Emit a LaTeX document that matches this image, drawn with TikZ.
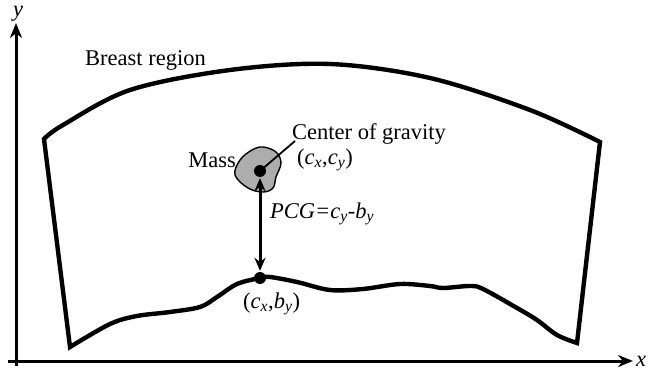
\documentclass[tikz,border=0pt]{standalone}
\usepackage{fontspec}
\setmainfont{Liberation Serif}
\usetikzlibrary{arrows.meta}
\newcommand\mysub[1]{\textsubscript{#1}}
\tikzset{
  lbl/.style={font=\fontsize{22.5}{26}\selectfont, inner sep=0pt},
  axis/.style={line width=3pt, -{Stealth[length=15pt,width=12pt]}},
  region/.style={line width=4.4pt, line join=miter},
  dotm/.style={circle, fill=black, inner sep=0pt, minimum size=12pt},
}
\begin{document}
\begin{tikzpicture}[x=1pt,y=-1pt]
\useasboundingbox (0,0) rectangle (653,371);
% axes
\coordinate (o1) at (8,361);
\coordinate (xend) at (633,361);
\coordinate (o2) at (16,366);
\coordinate (yend) at (16,23);
\draw[axis] (o1) -- (xend);
\draw[axis] (o2) -- (yend);
\node[lbl, font=\fontsize{22.5}{26}\selectfont\itshape, anchor=base] (xl) at (641,366) {x};
\node[lbl, font=\fontsize{22.5}{26}\selectfont\itshape, anchor=base] (yl) at (18,17) {y};
% region
\draw[region] plot[smooth, tension=0.55] coordinates {(44,139) (63,125) (130,90) (230,70) (330,64) (430,78) (530,110) (600,142)}
  -- plot[smooth, tension=0.55] coordinates {(577,343) (557,335) (537,320) (517,308) (483,289) (470,286) (443,288) (430,286) (400,284) (363,289) (330,290) (297,282) (270,277) (260,278) (237,284) (217,297) (200,307) (170,312) (137,316) (110,324) (70,347)}
  -- cycle;
\node[lbl, anchor=west] (br) at (85,60) {Breast region};
% mass
\draw[line width=1.4pt, fill=black!32] plot[smooth cycle, tension=0.6] coordinates {(263,147) (276,152) (281,163) (276,177) (273,188) (263,192) (248,188) (235,175) (240,160) (252,150)};
\node[dotm] (cg) at (260,171) {};
\node[dotm] (bp) at (260,278) {};
\node[lbl, anchor=east] (mass) at (236,160) {Mass};
\node[lbl, anchor=west] (cog) at (292,134) {Center of gravity};
\draw[line width=1.8pt] (cg.center) -- (295,141);
\node[lbl, anchor=west] (cxcy) at (297,160) {(\textit{c}\mysub{\textit{x}},\textit{c}\mysub{\textit{y}})};
% arrow
\draw[line width=3pt, {Stealth[length=13pt,width=11pt]}-{Stealth[length=13pt,width=11pt]}, shorten <=1pt, shorten >=1pt] (cg) -- (bp);
\node[lbl, anchor=west] (pcg) at (270,214) {\textit{PCG=c}\mysub{\textit{y}}-\textit{b}\mysub{\textit{y}}};
\node[lbl, anchor=west] (cxby) at (243,304) {(\textit{c}\mysub{\textit{x}},\textit{b}\mysub{\textit{y}})};
\end{tikzpicture}
\end{document}
